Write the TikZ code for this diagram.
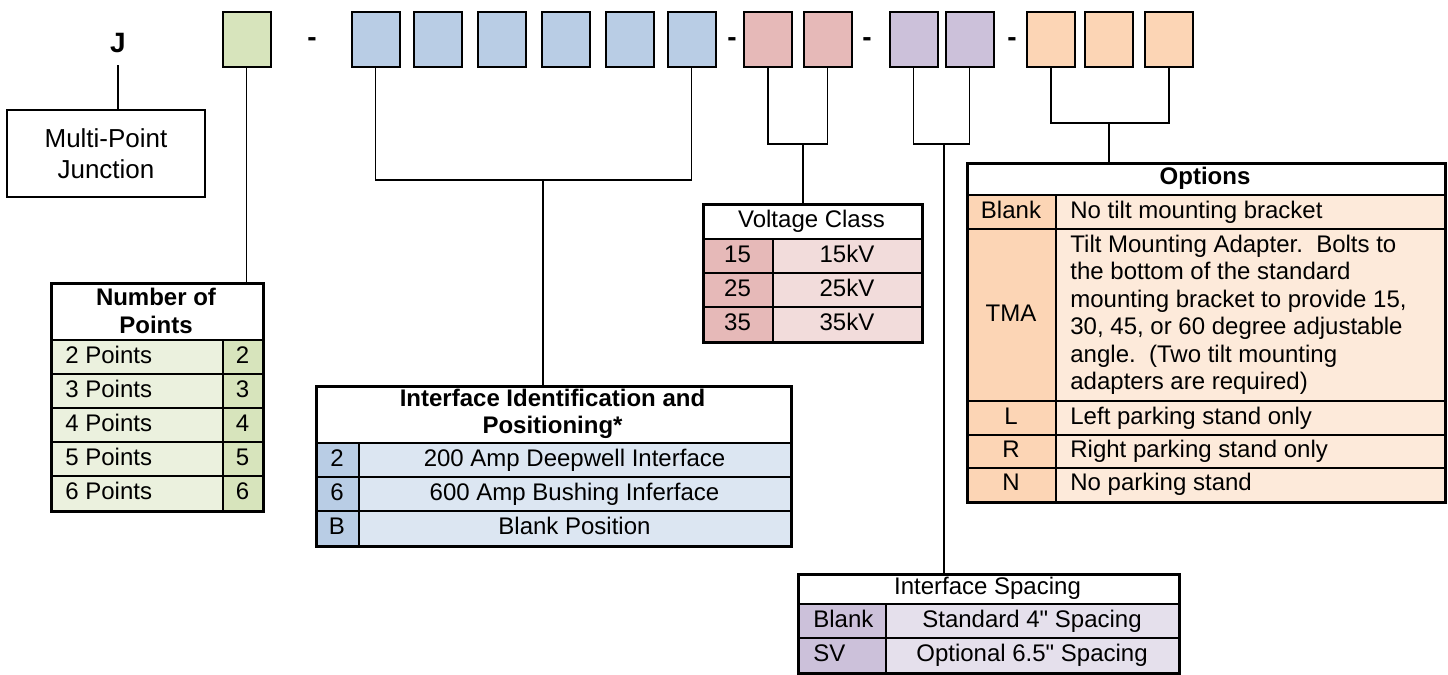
\documentclass[tikz,border=0pt]{standalone}
\usepackage{fontspec}
\setmainfont{Liberation Sans}
\newfontfamily\qfont{Liberation Sans}[Ligatures=TeXOff]
\definecolor{gbox}{HTML}{D7E4BC}
\definecolor{glite}{HTML}{EBF1DE}
\definecolor{bbox}{HTML}{B9CDE5}
\definecolor{blite}{HTML}{DCE6F2}
\definecolor{rbox}{HTML}{E6B9B8}
\definecolor{rlite}{HTML}{F2DCDB}
\definecolor{pbox}{HTML}{CCC1DA}
\definecolor{plite}{HTML}{E5E0EC}
\definecolor{obox}{HTML}{FCD5B5}
\definecolor{olite}{HTML}{FDEADA}
\newcommand{\inchmark}{{\qfont\char34}}
\begin{document}
\begin{tikzpicture}[x=0.5pt,y=-0.5pt,
  codebox/.style={draw=black, line width=1pt, minimum width=24pt, minimum height=27.5pt, inner sep=0pt},
  conn/.style={line width=0.75pt},
  inner/.style={line width=1pt},
  frame/.style={draw=black, line width=1.6pt, inner sep=0pt, anchor=north west},
  txt/.style={font=\fontsize{12}{13.75}\selectfont, inner sep=0pt, text height=8.6pt, text depth=2.5pt},
  hdr/.style={font=\fontsize{12}{13.75}\selectfont\bfseries, inner sep=0pt},
  big/.style={font=\fontsize{14}{16}\selectfont\bfseries, inner sep=0pt}
]
\useasboundingbox (0,0) rectangle (1448,675);

% ---- top row ----
\node[big, anchor=base] (J) at (118,52) {J};
\node[draw=black, line width=1pt, minimum width=99pt, minimum height=43.5pt, align=center,
      font=\fontsize{13}{15.5}\selectfont, inner sep=0pt] (mpj) at (106,153.5) {Multi-Point\\Junction};

\node[codebox, fill=gbox] (g) at (246.5,39) {};
\node[big] (d1) at (312,42) {-};
\node[codebox, fill=bbox] (b1) at (375.5,39) {};
\node[codebox, fill=bbox] (b2) at (438,39) {};
\node[codebox, fill=bbox] (b3) at (502,39) {};
\node[codebox, fill=bbox] (b4) at (566,39) {};
\node[codebox, fill=bbox] (b5) at (630,39) {};
\node[codebox, fill=bbox] (b6) at (691.5,39) {};
\node[big] (d2) at (732,42) {-};
\node[codebox, fill=rbox] (r1) at (768,39) {};
\node[codebox, fill=rbox] (r2) at (827.5,39) {};
\node[big] (d3) at (867,42) {-};
\node[codebox, fill=pbox] (p1) at (913.5,39) {};
\node[codebox, fill=pbox] (p2) at (969.5,39) {};
\node[big] (d4) at (1012,42) {-};
\node[codebox, fill=obox] (o1) at (1051,39) {};
\node[codebox, fill=obox] (o2) at (1108.5,39) {};
\node[codebox, fill=obox] (o3) at (1169,39) {};

% ---- Number of Points ----
\fill[glite] (50,340) rectangle (223,510);
\fill[gbox] (223,340) rectangle (262,510);
\foreach \yy in {340,374,408,442,476} \draw[inner] (50,\yy) -- (262,\yy);
\draw[inner] (223,340) -- (223,510);
\node[frame, minimum width=106pt, minimum height=114pt] (nop) at (50,282) {};
\node[hdr, align=center] (noph) at (156,311) {Number of\\Points};
\foreach \n/\yy in {2/357,3/391,4/425,5/459,6/493} {
  \node[txt, anchor=west] (nopl\n) at (65,\yy) {\n{} Points};
  \node[txt] (nopr\n) at (242.5,\yy) {\n};
}

% ---- Interface Identification ----
\fill[bbox] (315,443) rectangle (359,545);
\fill[blite] (359,443) rectangle (790,545);
\foreach \yy in {443,477,511} \draw[inner] (315,\yy) -- (790,\yy);
\draw[inner] (359,443) -- (359,545);
\node[frame, minimum width=237.5pt, minimum height=80pt] (ifc) at (315,385) {};
\node[hdr, align=center] (ifch) at (552.5,414) {Interface Identification and\\Positioning*};
\node[txt] (ifk1) at (337,460) {2};
\node[txt] (ifv1) at (574.5,460) {200 Amp Deepwell Interface};
\node[txt] (ifk2) at (337,494) {6};
\node[txt] (ifv2) at (574.5,494) {600 Amp Bushing Inferface};
\node[txt] (ifk3) at (337,528) {B};
\node[txt] (ifv3) at (574.5,528) {Blank Position};

% ---- Voltage Class ----
\fill[rbox] (702,239) rectangle (773,341);
\fill[rlite] (773,239) rectangle (921,341);
\foreach \yy in {239,273,307} \draw[inner] (702,\yy) -- (921,\yy);
\draw[inner] (773,239) -- (773,341);
\node[frame, minimum width=109.5pt, minimum height=69pt] (vc) at (702,203) {};
\node[txt] (vch) at (811.5,221) {Voltage Class};
\foreach \k/\yy in {15/256,25/290,35/324} {
  \node[txt] (vck\k) at (737.5,\yy) {\k};
  \node[txt] (vcv\k) at (847,\yy) {\k kV};
}

% ---- Options ----
\fill[obox] (966,195) rectangle (1056,501);
\fill[olite] (1056,195) rectangle (1444,501);
\foreach \yy in {195,229,401,435,468} \draw[inner] (966,\yy) -- (1444,\yy);
\draw[inner] (1056,195) -- (1056,501);
\node[frame, minimum width=239pt, minimum height=169.5pt] (opt) at (966,162) {};
\node[hdr] (opth) at (1205,178.5) {Options};
\node[txt] (ok1) at (1011,212) {Blank};
\node[txt, anchor=west] (ov1) at (1070,212) {No tilt mounting bracket};
\node[txt] (ok2) at (1011,315) {TMA};
\node[font=\fontsize{12}{13.75}\selectfont, inner sep=0pt, anchor=west, align=left] (ov2) at (1070,315)
  {Tilt Mounting Adapter.\ \ Bolts to\\the bottom of the standard\\mounting bracket to provide 15,\\30, 45, or 60 degree adjustable\\angle.\ \ (Two tilt mounting\\adapters are required)};
\node[txt] (ok3) at (1011,418) {L};
\node[txt, anchor=west] (ov3) at (1070,418) {Left parking stand only};
\node[txt] (ok4) at (1011,451.5) {R};
\node[txt, anchor=west] (ov4) at (1070,451.5) {Right parking stand only};
\node[txt] (ok5) at (1011,484.5) {N};
\node[txt, anchor=west] (ov5) at (1070,484.5) {No parking stand};

% ---- Interface Spacing ----
\fill[pbox] (797,604) rectangle (886,672);
\fill[plite] (886,604) rectangle (1178,672);
\foreach \yy in {604,638} \draw[inner] (797,\yy) -- (1178,\yy);
\draw[inner] (886,604) -- (886,672);
\node[frame, minimum width=190.5pt, minimum height=49.5pt] (sp) at (797,573) {};
\node[txt] (sph) at (987.5,588.5) {Interface Spacing};
\node[txt, anchor=west] (spk1) at (813,621) {Blank};
\node[txt] (spv1) at (1032,621) {Standard 4\inchmark{} Spacing};
\node[txt, anchor=west] (spk2) at (813,655) {SV};
\node[txt] (spv2) at (1032,655) {Optional 6.5\inchmark{} Spacing};

% ---- connectors ----
\coordinate (jb) at (118,65);
\draw[conn] (jb) -- (jb |- mpj.north);
\draw[conn] (g.south) -- (g.south |- nop.north);
\coordinate (bb) at (543,180);
\draw[conn] (b1.south) |- (bb) -| (b6.south);
\draw[conn] (bb) -- (bb |- ifc.north);
\coordinate (rb) at (803,144);
\draw[conn] (r1.south) |- (rb) -| (r2.south);
\draw[conn] (rb) -- (rb |- vc.north);
\coordinate (pb) at (944,144);
\draw[conn] (p1.south) |- (pb) -| (p2.south);
\draw[conn] (pb) -- (pb |- sp.north);
\coordinate (ob) at (1109,123);
\draw[conn] (o1.south) |- (ob) -| (o3.south);
\draw[conn] (ob) -- (ob |- opt.north);
\end{tikzpicture}
\end{document}
